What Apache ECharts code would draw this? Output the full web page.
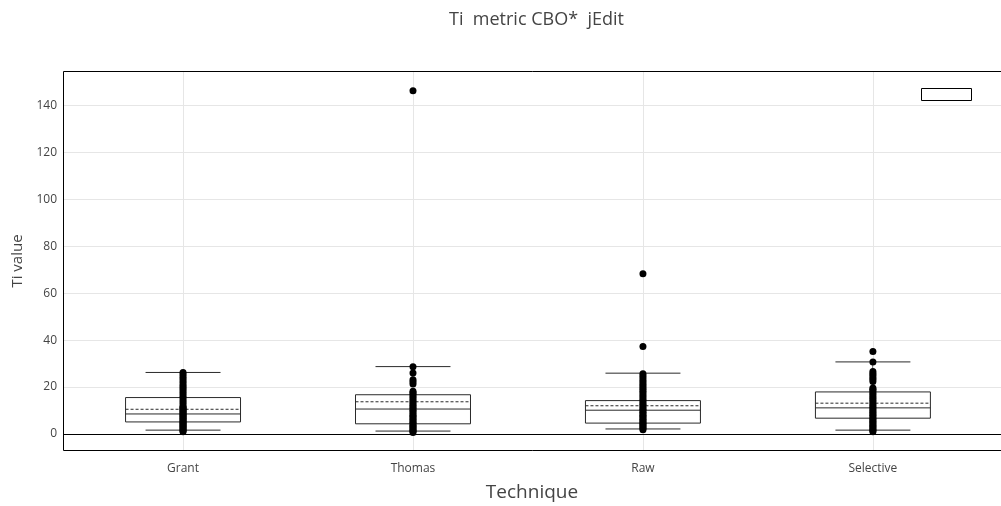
<!DOCTYPE html>
<html>
<head>
<meta charset="utf-8">
<style>
  html, body { margin: 0; padding: 0; background: #fff; }
  #chart { width: 1001px; height: 506px; }
</style>
<script src="https://cdn.jsdelivr.net/npm/echarts@6/dist/echarts.min.js"></script>
</head>
<body>
<div id="chart"></div>
<script>
// Techniques compared on the x axis
const categories = ['Grant', 'Thomas', 'Raw', 'Selective'];

// Box summaries per technique
const whiskerLow  = [1.6, 1.2, 2.1, 1.6];
const q1          = [5.1, 4.3, 4.6, 6.7];
const median      = [8.5, 10.6, 10.1, 11.1];
const q3          = [15.5, 16.7, 14.2, 17.9];
const whiskerHigh = [26.2, 28.7, 25.9, 30.7];
const mean        = [10.5, 13.7, 12.0, 13.1];

// Individual Ti values per technique
const grantPoints = [0.9, 1.3, 1.8, 2.2, 2.7, 3.1, 3.6, 4.0, 4.5, 5.0, 5.4, 5.9, 6.3, 6.8,
  7.2, 7.7, 8.1, 8.6, 9.0, 9.5, 10.0, 10.4, 10.9, 11.3, 11.8, 12.7, 13.6, 14.5, 15.4,
  16.3, 17.2, 18.1, 19.0, 19.9, 20.8, 21.7, 22.6, 23.5, 24.4, 25.3, 26.2];
const thomasPoints = [0.6, 1.1, 1.6, 2.1, 2.6, 3.1, 3.7, 4.3, 4.9, 5.5, 6.1, 6.8, 7.4, 8.0,
  8.7, 9.4, 10.1, 10.8, 11.5, 12.2, 13.0, 13.8, 14.6, 15.4, 16.2, 17.0, 17.6, 18.2,
  21.3, 22.2, 23.1, 26.0, 28.6, 146.4];
const rawPoints = [1.8, 2.3, 2.9, 3.4, 4.0, 4.5, 5.1, 5.6, 6.2, 6.8, 7.4, 8.0, 8.6, 9.2, 9.9,
  10.5, 11.2, 11.9, 12.6, 13.4, 14.2, 15.0, 15.8, 16.6, 17.4, 18.2, 19.0, 19.8, 20.6,
  21.4, 22.2, 23.0, 23.9, 24.8, 25.6, 37.3, 68.3];
const selectivePoints = [0.9, 1.4, 1.9, 2.5, 3.0, 3.6, 4.2, 4.8, 5.4, 6.0, 6.6, 7.2, 7.9, 8.5,
  9.2, 9.9, 10.6, 11.3, 12.0, 12.8, 13.6, 14.4, 15.2, 16.0, 16.8, 17.6, 18.4, 19.0, 19.6,
  22.4, 23.3, 24.1, 25.0, 25.8, 26.6, 30.7, 35.1];

const pointSets = [grantPoints, thomasPoints, rawPoints, selectivePoints];

// Axis ranges and tick labels
const xMin = -0.522;
const xMax = 3.557;
const yMin = -7.3;
const yMax = 154.8;
const yTicks = [0, 20, 40, 60, 80, 100, 120, 140];
const xTicks = [0, 1, 2, 3];

const TEXT = '#444';
const FONT = '"Open Sans", "Noto Sans", sans-serif';

const boxData = categories.map((c, i) => [i, whiskerLow[i], q1[i], median[i], q3[i], whiskerHigh[i], mean[i]]);
const scatterData = [];
pointSets.forEach((arr, i) => arr.forEach(v => scatterData.push([i, v])));

function renderBox(params, api) {
  const idx = api.value(0);
  const band = api.size([1, 0])[0];
  const halfBox = band * 0.25;
  const halfCap = band * 0.163;
  const pLow = api.coord([idx, api.value(1)]);
  const pQ1 = api.coord([idx, api.value(2)]);
  const pMed = api.coord([idx, api.value(3)]);
  const pQ3 = api.coord([idx, api.value(4)]);
  const pHigh = api.coord([idx, api.value(5)]);
  const pMean = api.coord([idx, api.value(6)]);
  const cx = pMed[0];
  const stroke = { stroke: '#2a2a2a', lineWidth: 1, fill: null };
  return {
    type: 'group',
    children: [
      { type: 'line', shape: { x1: cx, y1: pQ3[1], x2: cx, y2: pHigh[1] }, style: stroke },
      { type: 'line', shape: { x1: cx, y1: pQ1[1], x2: cx, y2: pLow[1] }, style: stroke },
      { type: 'line', shape: { x1: cx - halfCap, y1: pHigh[1], x2: cx + halfCap, y2: pHigh[1] }, style: stroke },
      { type: 'line', shape: { x1: cx - halfCap, y1: pLow[1], x2: cx + halfCap, y2: pLow[1] }, style: stroke },
      { type: 'rect', shape: { x: cx - halfBox, y: pQ3[1], width: halfBox * 2, height: pQ1[1] - pQ3[1] },
        style: { stroke: '#2a2a2a', lineWidth: 1, fill: '#fff' } },
      { type: 'line', shape: { x1: cx - halfBox, y1: pMed[1], x2: cx + halfBox, y2: pMed[1] }, style: stroke },
      { type: 'line', shape: { x1: cx - halfBox, y1: pMean[1], x2: cx + halfBox, y2: pMean[1] },
        style: { stroke: '#2a2a2a', lineWidth: 1, lineDash: [3, 2], fill: null } }
    ]
  };
}

const chart = echarts.init(document.getElementById('chart'), null, { renderer: 'canvas' });
chart.setOption({
  animation: false,
  backgroundColor: '#fff',
  textStyle: { fontFamily: FONT },
  title: {
    text: 'Ti  metric CBO*  jEdit',
    left: 444,
    top: 6,
    textStyle: { fontFamily: FONT, fontSize: 18, fontWeight: 'normal', color: TEXT }
  },
  legend: {
    left: 921,
    top: 88,
    padding: 0,
    itemWidth: 50,
    itemHeight: 12,
    selectedMode: false,
    textStyle: { fontSize: 1, color: 'rgba(0,0,0,0)' },
    data: [{ name: ' ', icon: 'rect', itemStyle: { color: '#fff', borderColor: '#000', borderWidth: 1 } }]
  },
  grid: { left: 63, right: 0, top: 71, bottom: 55, containLabel: false, outerBoundsMode: 'none' },
  xAxis: {
    type: 'value',
    min: xMin,
    max: xMax,
    name: 'Technique',
    nameLocation: 'middle',
    nameGap: 32,
    nameTextStyle: { fontFamily: FONT, fontSize: 19, color: TEXT },
    axisLine: { show: false },
    axisTick: { show: true, customValues: xTicks, length: 5, lineStyle: { color: TEXT } },
    axisLabel: {
      fontFamily: FONT, fontSize: 12, color: TEXT, margin: 12,
      customValues: xTicks,
      formatter: v => categories[Math.round(v)]
    },
    splitLine: { show: false }
  },
  yAxis: {
    type: 'value',
    min: yMin,
    max: yMax,
    splitNumber: 8,
    name: 'Ti value',
    nameLocation: 'middle',
    nameGap: 38,
    nameTextStyle: { fontFamily: FONT, fontSize: 15, color: TEXT },
    axisLine: { show: false },
    axisTick: { show: true, customValues: yTicks, length: 5, lineStyle: { color: TEXT } },
    axisLabel: { fontFamily: FONT, fontSize: 12, color: TEXT, margin: 6, customValues: yTicks },
    splitLine: { show: false }
  },
  graphic: [{
    type: 'rect',
    z: 100,
    silent: true,
    shape: { x: 63.5, y: 71.5, width: 940, height: 379 },
    style: { stroke: '#000', lineWidth: 1, fill: null }
  }],
  series: [
    {
      name: 'grid',
      type: 'scatter',
      data: [],
      silent: true,
      markLine: {
        silent: true,
        symbol: 'none',
        label: { show: false },
        lineStyle: { color: '#e6e6e6', width: 1, type: 'solid' },
        data: xTicks.map(v => ({ xAxis: v })).concat(yTicks.filter(v => v !== 0).map(v => ({ yAxis: v })))
      }
    },
    {
      name: ' ',
      type: 'custom',
      renderItem: renderBox,
      data: boxData,
      encode: { x: 0, y: [1, 2, 3, 4, 5] },
      z: 3
    },
    {
      name: 'points',
      type: 'scatter',
      data: scatterData,
      symbolSize: 7,
      itemStyle: { color: '#000', opacity: 1 },
      z: 5,
      markLine: {
        silent: true,
        symbol: 'none',
        label: { show: false },
        lineStyle: { color: '#000', width: 1, type: 'solid' },
        data: [{ yAxis: 0 }]
      }
    }
  ]
});
</script>
</body>
</html>
